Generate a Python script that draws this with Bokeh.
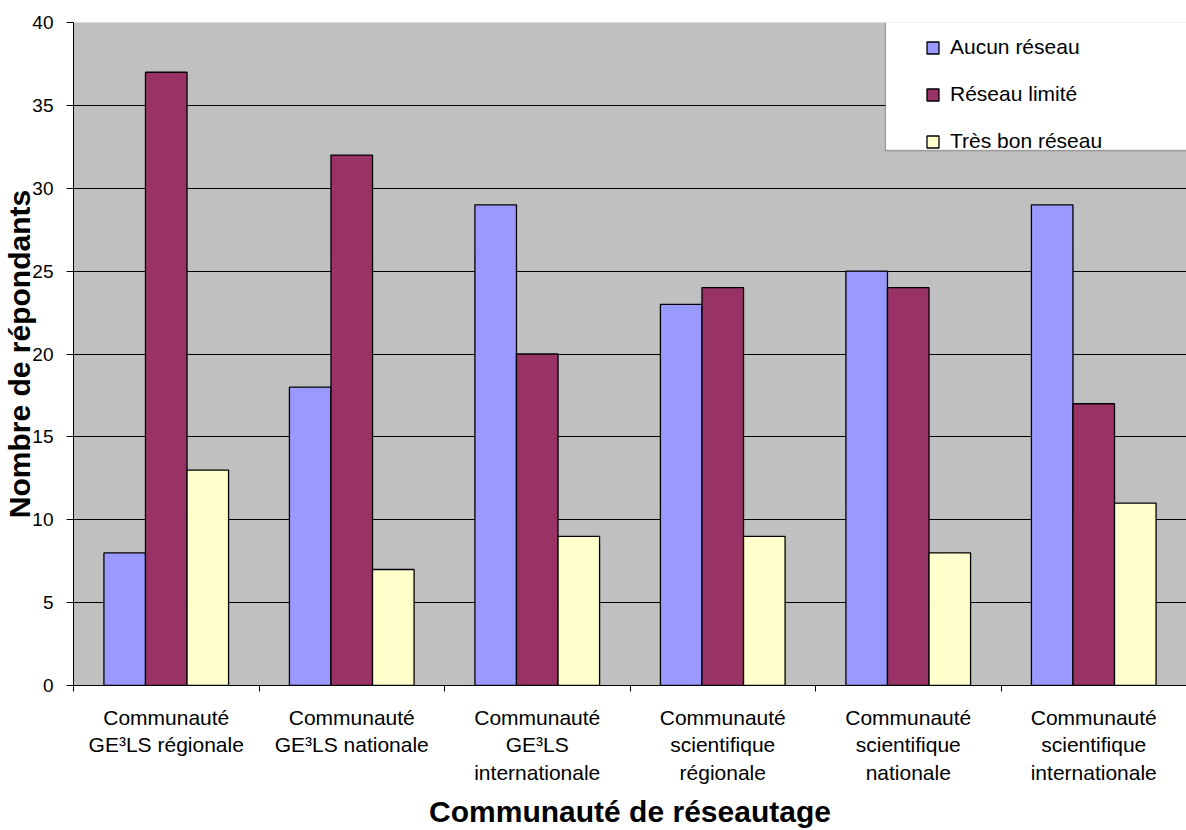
from bokeh.plotting import figure
from bokeh.models import (Range1d, FixedTicker, ColumnDataSource, Legend, LegendItem,
                          BoxAnnotation)
from bokeh.transform import dodge
from bokeh.embed import file_html
from bokeh.resources import INLINE

# ---- data ----
categories = [
    "Communauté\nGE³LS régionale",
    "Communauté\nGE³LS nationale",
    "Communauté\nGE³LS\ninternationale",
    "Communauté\nscientifique\nrégionale",
    "Communauté\nscientifique\nnationale",
    "Communauté\nscientifique\ninternationale",
]
series_names = ["Aucun réseau", "Réseau limité", "Très bon réseau"]
aucun_reseau = [8, 18, 29, 23, 25, 29]
reseau_limite = [37, 32, 20, 24, 24, 17]
tres_bon_reseau = [13, 7, 9, 9, 8, 11]
y_ticks = [0, 5, 10, 15, 20, 25, 30, 35, 40]

colors = ["#9999FF", "#993366", "#FFFFCC"]
FONT = "Liberation Sans"

n = len(categories)
centers = [i + 0.5 for i in range(n)]
bounds = [i for i in range(n + 1)]

source = ColumnDataSource(dict(x=centers, a=aucun_reseau, b=reseau_limite, c=tres_bon_reseau))

p = figure(width=1186, height=830, output_backend="svg", toolbar_location=None,
           x_range=Range1d(0, n), y_range=Range1d(0, 40),
           min_border_left=73, min_border_right=0, min_border_top=22, min_border_bottom=145)
p.background_fill_color = "#C0C0C0"
p.border_fill_color = "white"
p.outline_line_color = None

bw = 0.224
renderers = []
for col, off, color in zip(["a", "b", "c"], [-bw, 0, bw], colors):
    r = p.vbar(x=dodge("x", off, range=p.x_range), top=col, width=bw, bottom=0,
               source=source, fill_color=color, line_color="black", line_width=1.3)
    renderers.append(r)

# grid
p.xgrid.visible = False
p.ygrid.ticker = FixedTicker(ticks=y_ticks[1:-1])
p.ygrid.grid_line_color = "black"
p.ygrid.grid_line_width = 1

# y axis
yax = p.yaxis[0]
yax.ticker = FixedTicker(ticks=y_ticks)
yax.axis_line_color = "black"
yax.major_tick_out = 7
yax.major_tick_in = 0
yax.minor_tick_line_color = None
yax.major_label_text_font = FONT
yax.major_label_text_font_size = "19px"
yax.major_label_text_color = "black"
yax.major_label_standoff = 13
yax.axis_label = "Nombre de répondants"
yax.axis_label_text_font = FONT
yax.axis_label_text_font_style = "bold"
yax.axis_label_text_font_size = "30px"
yax.axis_label_text_color = "black"
yax.axis_label_standoff = -7

# x axis
xax = p.xaxis[0]
xax.ticker = FixedTicker(ticks=centers, minor_ticks=bounds)
xax.major_label_overrides = {c: lab for c, lab in zip(centers, categories)}
xax.axis_line_color = "black"
xax.major_tick_line_color = None
xax.minor_tick_line_color = "black"
xax.minor_tick_out = 6
xax.minor_tick_in = 0
xax.major_label_text_font = FONT
xax.major_label_text_font_size = "21px"
xax.major_label_text_color = "black"
xax.major_label_text_line_height = 1.2
xax.major_label_standoff = 14
xax.axis_label = "Communauté de réseautage"
xax.axis_label_text_font = FONT
xax.axis_label_text_font_style = "bold"
xax.axis_label_text_font_size = "30px"
xax.axis_label_text_color = "black"
xax.axis_label_standoff = 8

# legend frame (white box with black border)
box = BoxAnnotation(left=885, right=1192, top=7, bottom=150,
                    left_units="canvas", right_units="canvas",
                    top_units="canvas", bottom_units="canvas",
                    fill_color="white", fill_alpha=1.0,
                    line_color="black", line_width=1.3, level="annotation")
p.add_layout(box)

legend = Legend(items=[LegendItem(label=nm, renderers=[r]) for nm, r in zip(series_names, renderers)],
                location=(852, 532), padding=0, margin=0, spacing=23,
                glyph_width=15, glyph_height=15, label_height=24, label_standoff=10,
                label_text_font=FONT, label_text_font_size="21px", label_text_color="black",
                border_line_color=None, background_fill_alpha=0)
p.add_layout(legend)

open("out.html", "w").write(file_html(p, INLINE))
